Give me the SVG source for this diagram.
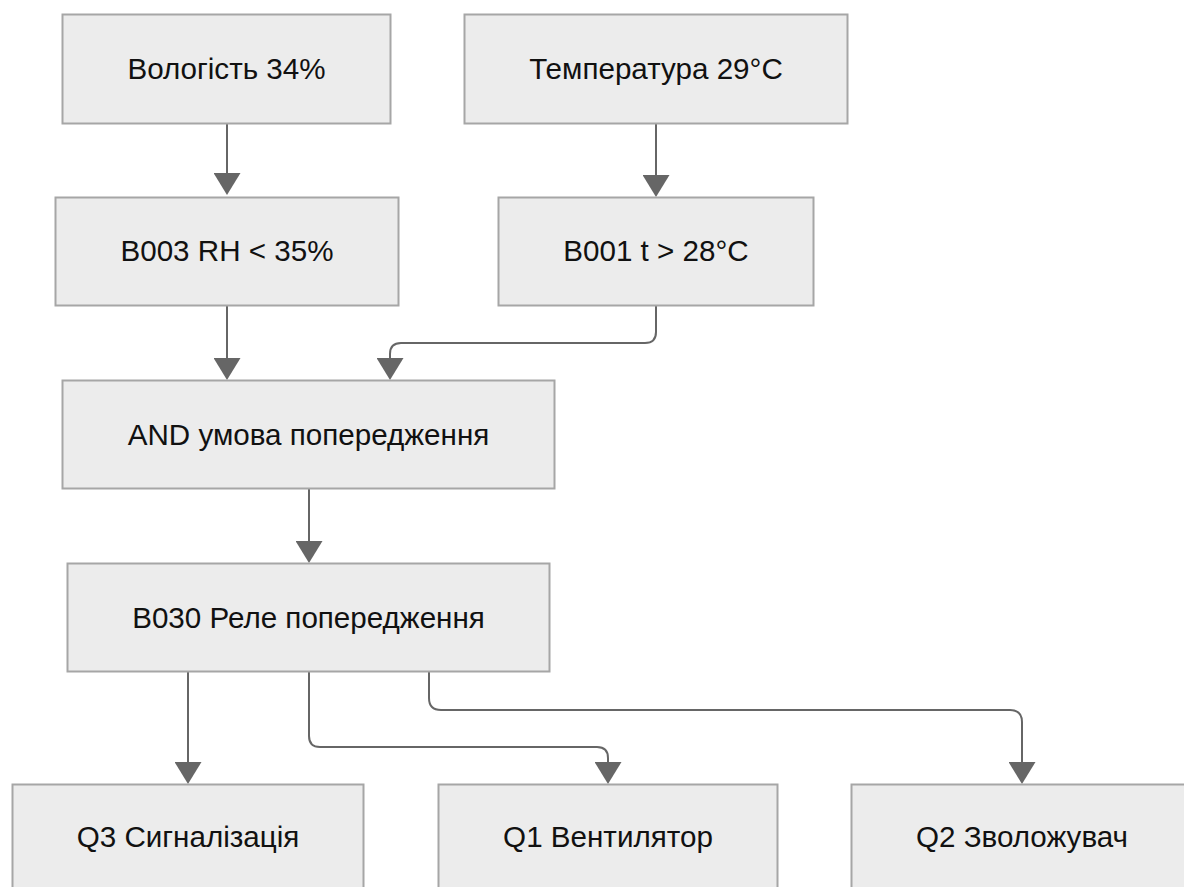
<svg xmlns="http://www.w3.org/2000/svg" width="1184" height="887" viewBox="0 0 1184 887">
  <style>
    .node rect { fill: #ececec; stroke: #a6a6a6; stroke-width: 2; }
    .node text { font-family: "Liberation Sans", Arial, sans-serif; font-size: 29.6px; fill: #111; text-anchor: middle; }
    .edge { fill: none; stroke: #666; stroke-width: 2; marker-end: url(#arrow); }
  </style>
  <defs>
    <marker id="arrow" viewBox="0 0 22 27" refX="0" refY="13.5" markerWidth="22" markerHeight="27" markerUnits="userSpaceOnUse" orient="auto">
      <path d="M0,0 L22,13.5 L0,27 z" fill="#666"/>
    </marker>
  </defs>
  <rect width="1184" height="887" fill="#fff"/>

  <g id="connectors">
    <path class="edge" d="M227,124 L227,173"/>
    <path class="edge" d="M656,124 L656,175"/>
    <path class="edge" d="M227,306 L227,358"/>
    <path class="edge" d="M656,306 L656,332 Q656,343 645,343 L401,343 Q390,343 390,354 L390,358"/>
    <path class="edge" d="M309,489 L309,541"/>
    <path class="edge" d="M188,672 L188,762"/>
    <path class="edge" d="M309,672 L309,736 Q309,747 320,747 L597,747 Q608,747 608,758 L608,762"/>
    <path class="edge" d="M429,672 L429,698 Q429,710 441,710 L1010,710 Q1022,710 1022,722 L1022,762"/>
  </g>

  <g id="n-humidity" class="node">
    <rect x="62.5" y="14.5" width="328" height="109"/>
    <text x="226.5" y="79">Вологість 34%</text>
  </g>
  <g id="n-temperature" class="node">
    <rect x="464.5" y="14.5" width="383" height="109"/>
    <text x="656" y="79">Температура 29°C</text>
  </g>
  <g id="n-b003" class="node">
    <rect x="55.5" y="197.5" width="343" height="108"/>
    <text x="227" y="261">B003 RH &lt; 35%</text>
  </g>
  <g id="n-b001" class="node">
    <rect x="498.5" y="197.5" width="315" height="108"/>
    <text x="656" y="261">B001 t &gt; 28°C</text>
  </g>
  <g id="n-and" class="node">
    <rect x="62.5" y="380.5" width="492" height="108"/>
    <text x="308.5" y="445">AND умова попередження</text>
  </g>
  <g id="n-b030" class="node">
    <rect x="67.5" y="563.5" width="482" height="108"/>
    <text x="308.5" y="628">B030 Реле попередження</text>
  </g>
  <g id="n-q3" class="node">
    <rect x="12.5" y="784.5" width="351" height="109"/>
    <text x="188" y="847">Q3 Сигналізація</text>
  </g>
  <g id="n-q1" class="node">
    <rect x="438.5" y="784.5" width="339" height="109"/>
    <text x="608" y="847">Q1 Вентилятор</text>
  </g>
  <g id="n-q2" class="node">
    <rect x="851.5" y="784.5" width="342" height="109"/>
    <text x="1022" y="847">Q2 Зволожувач</text>
  </g>
</svg>
